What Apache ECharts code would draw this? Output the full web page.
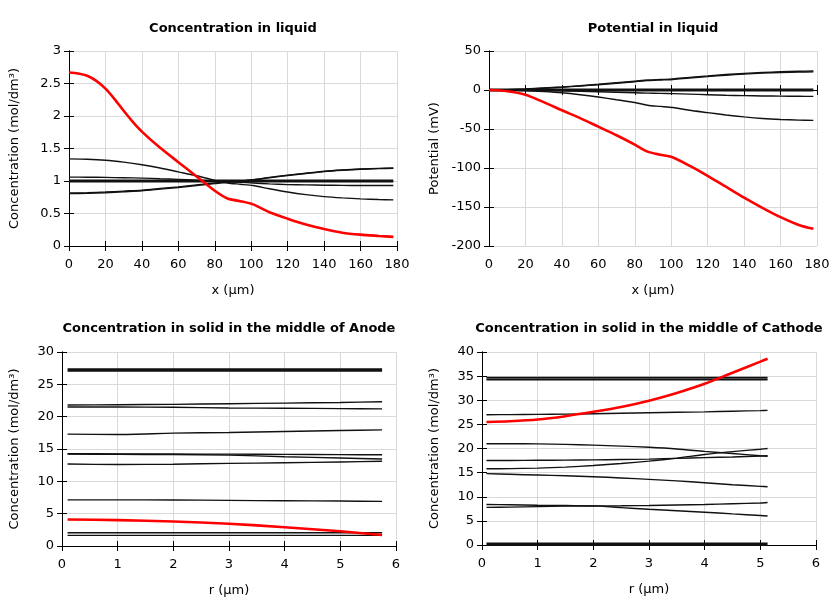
<!DOCTYPE html>
<html>
<head>
<meta charset="utf-8">
<script src="https://cdn.jsdelivr.net/npm/echarts@6/dist/echarts.min.js"></script>
<style>
html,body{margin:0;padding:0;background:#fff;}
#chart{width:840px;height:600px;}
</style>
</head>
<body>
<div id="chart"></div>
<script>
// ---------- DATA ----------
const xLiquid = [0, 10, 20, 30, 40, 50, 60, 70, 80, 87, 94, 101, 110, 120, 130, 140, 150, 160, 170, 178];
const xLiquidRed = [0, 5, 10, 15, 20, 25, 30, 35, 40, 50, 60, 70, 80, 87, 94, 101, 110, 120, 130, 140, 150, 160, 170, 178];

const concLiqRed = [2.67, 2.655, 2.62, 2.54, 2.42, 2.26, 2.08, 1.91, 1.76, 1.51, 1.29, 1.07, 0.85, 0.73, 0.69, 0.64, 0.52, 0.42, 0.33, 0.26, 0.205, 0.175, 0.155, 0.14];
const concLiqHigh = [1.34, 1.335, 1.32, 1.29, 1.25, 1.20, 1.14, 1.08, 1.01, 0.97, 0.95, 0.93, 0.88, 0.83, 0.79, 0.76, 0.74, 0.725, 0.715, 0.71];
const concLiqLowA = [0.815, 0.82, 0.83, 0.845, 0.86, 0.885, 0.91, 0.94, 0.97, 0.99, 1.0, 1.02, 1.055, 1.09, 1.12, 1.15, 1.17, 1.185, 1.195, 1.20];
const concLiqLowB = [0.805, 0.81, 0.82, 0.835, 0.85, 0.875, 0.90, 0.93, 0.96, 0.98, 0.995, 1.015, 1.05, 1.085, 1.115, 1.145, 1.165, 1.18, 1.19, 1.195];
const concLiqFlat = [1, 1, 1, 1, 1, 1, 1, 1, 1, 1, 1, 1, 1, 1, 1, 1, 1, 1, 1, 1];
const concLiqMid = [1.06, 1.058, 1.055, 1.05, 1.045, 1.035, 1.025, 1.012, 1.0, 0.99, 0.98, 0.97, 0.955, 0.945, 0.94, 0.935, 0.933, 0.93, 0.93, 0.93];

const potLiqRed = [0, -1.5, -6, -15.5, -26, -36, -47, -58, -70, -79, -83, -86.5, -97, -110, -124, -138, -151, -163, -173, -178];
const potLiqUpA = [0, 0.3, 1.2, 2.5, 3.8, 5.5, 7.3, 9.3, 11.3, 12.8, 13.5, 14.2, 16.2, 18.0, 19.8, 21.3, 22.5, 23.4, 24.0, 24.4];
const potLiqUpB = [0, 0.3, 1.1, 2.3, 3.5, 5.1, 6.8, 8.7, 10.6, 12.0, 12.8, 13.5, 15.4, 17.2, 19.0, 20.4, 21.6, 22.5, 23.0, 23.3];
const potLiqFlat = [0, 0, 0, 0, 0, 0, 0, 0, 0, 0, 0, 0, 0, 0, 0, 0, 0, 0, 0, 0];
const potLiqDnA = [0, 0, -0.2, -0.6, -1.1, -1.7, -2.3, -2.9, -3.5, -4, -4.3, -4.6, -5.3, -6, -6.7, -7.2, -7.6, -7.9, -8.1, -8.2];
const potLiqDnB = [0, -0.2, -0.8, -2, -3.6, -6, -9, -12.5, -16, -19.5, -21, -22.5, -26, -29, -32, -34.5, -36.5, -37.8, -38.6, -39];

const rAnode = [0.1, 1, 2, 3, 4, 5, 5.75];
const anodeRed = [4.1, 4.0, 3.8, 3.45, 2.9, 2.27, 1.7];
const anodeTop = [27.2, 27.2, 27.2, 27.2, 27.2, 27.2, 27.2];
const anode1 = [21.8, 21.85, 21.9, 22.0, 22.1, 22.2, 22.3];
const anode2 = [21.5, 21.5, 21.45, 21.35, 21.3, 21.25, 21.2];
const anode3 = [17.3, 17.25, 17.45, 17.55, 17.7, 17.85, 17.95];
const anode4 = [14.26, 14.25, 14.22, 14.2, 14.17, 14.13, 14.1];
const anode5 = [14.2, 14.18, 14.13, 14.05, 13.8, 13.6, 13.45];
const anode6 = [12.67, 12.6, 12.65, 12.77, 12.87, 13.0, 13.1];
const anode7 = [7.13, 7.13, 7.12, 7.05, 7.0, 6.95, 6.9];
const anode8 = [2.05, 2.05, 2.05, 2.05, 2.05, 2.05, 2.05];
const anode9 = [1.64, 1.64, 1.64, 1.64, 1.64, 1.64, 1.64];

const rCathode = [0.08, 0.5, 1, 1.5, 2, 2.5, 3, 3.5, 4, 4.5, 5, 5.13];
const cathodeRed = [25.5, 25.65, 26.0, 26.7, 27.6, 28.6, 29.9, 31.5, 33.4, 35.7, 38.0, 38.6];
const cathodeTopA = [34.7, 34.7, 34.7, 34.7, 34.7, 34.7, 34.7, 34.7, 34.7, 34.7, 34.7, 34.7];
const cathodeTopB = [34.3, 34.3, 34.3, 34.3, 34.3, 34.3, 34.3, 34.3, 34.3, 34.3, 34.3, 34.3];
const cathode1 = [27.0, 27.03, 27.07, 27.12, 27.2, 27.3, 27.4, 27.5, 27.6, 27.73, 27.86, 27.9];
const cathode2 = [21.0, 21.0, 20.95, 20.85, 20.7, 20.5, 20.25, 19.9, 19.4, 18.95, 18.5, 18.4];
const cathode3 = [17.5, 17.52, 17.55, 17.6, 17.65, 17.72, 17.8, 17.95, 18.1, 18.25, 18.45, 18.5];
const cathode4 = [15.8, 15.83, 15.93, 16.15, 16.48, 16.9, 17.38, 18.0, 18.76, 19.35, 19.85, 20.0];
const cathode5 = [14.8, 14.65, 14.5, 14.35, 14.15, 13.9, 13.6, 13.3, 12.9, 12.5, 12.15, 12.07];
const cathode6 = [8.4, 8.35, 8.25, 8.18, 8.1, 8.12, 8.2, 8.3, 8.4, 8.55, 8.7, 8.8];
const cathode7 = [7.8, 7.85, 7.95, 8.05, 8.1, 7.75, 7.4, 7.1, 6.8, 6.45, 6.1, 6.0];
const cathodeBottom = [0.15, 0.15, 0.15, 0.15, 0.15, 0.15, 0.15, 0.15, 0.15, 0.15, 0.15, 0.15];

const titles = ['Concentration in liquid', 'Potential in liquid', 'Concentration in solid in the middle of Anode', 'Concentration in solid in the middle of Cathode'];
const xNames = ['x (µm)', 'x (µm)', 'r (µm)', 'r (µm)'];
const yNames = ['Concentration (mol/dm³)', 'Potential (mV)', 'Concentration (mol/dm³)', 'Concentration (mol/dm³)'];

// ---------- LAYOUT ----------
const FONT = 'DejaVu Sans';
const grids = [
  {left: 69, top: 51, width: 328, height: 195},
  {left: 489, top: 51, width: 328, height: 195},
  {left: 62, top: 352, width: 334, height: 194},
  {left: 482, top: 352, width: 334, height: 193}
];
const xRanges = [[0, 180, 20], [0, 180, 20], [0, 6, 1], [0, 6, 1]];
const yRanges = [[0, 3, 0.5], [-200, 50, 50], [0, 30, 5], [0, 40, 5]];
const yNameGaps = [48, 48, 41, 41];

const xAxes = [], yAxes = [], titleList = [];
grids.forEach((g, i) => {
  const tick = {show: true, inside: true, length: 5, lineStyle: {color: '#000', width: 1}};
  const line = {show: true, lineStyle: {color: '#000', width: 1}};
  xAxes.push({
    type: 'value', gridIndex: i, min: xRanges[i][0], max: xRanges[i][1], interval: xRanges[i][2],
    position: 'bottom', axisLine: line, axisTick: tick,
    axisLabel: {margin: 12, color: '#000', fontSize: 13, fontFamily: FONT},
    splitLine: {show: true, lineStyle: {color: '#d9d9d9', width: 1}},
    name: xNames[i], nameLocation: 'middle', nameGap: 38,
    nameTextStyle: {color: '#000', fontSize: 13, fontFamily: FONT}
  });
  xAxes.push({
    type: 'value', gridIndex: i, min: xRanges[i][0], max: xRanges[i][1], interval: xRanges[i][2],
    position: 'top', axisLine: line, axisTick: tick, axisLabel: {show: false}, splitLine: {show: false}
  });
  yAxes.push({
    type: 'value', gridIndex: i, min: yRanges[i][0], max: yRanges[i][1], interval: yRanges[i][2],
    position: 'left', axisLine: line, axisTick: tick,
    axisLabel: {margin: 8, color: '#000', fontSize: 13, fontFamily: FONT},
    splitLine: {show: true, lineStyle: {color: '#d9d9d9', width: 1}},
    name: yNames[i], nameLocation: 'middle', nameGap: yNameGaps[i], nameRotate: 90,
    nameTextStyle: {color: '#000', fontSize: 13, fontFamily: FONT}
  });
  yAxes.push({
    type: 'value', gridIndex: i, min: yRanges[i][0], max: yRanges[i][1], interval: yRanges[i][2],
    position: 'right', axisLine: line, axisTick: tick, axisLabel: {show: false}, splitLine: {show: false}
  });
  titleList.push({
    text: titles[i], left: g.left + g.width / 2, textAlign: 'center',
    top: i < 2 ? 22 : 322, padding: 0,
    textStyle: {fontSize: 13, fontWeight: 'bold', color: '#000', fontFamily: FONT}
  });
});

const series = [];
function addLine(panel, xs, ys, color, width) {
  series.push({
    type: 'line', xAxisIndex: panel * 2, yAxisIndex: panel * 2,
    data: xs.map((x, k) => [x, ys[k]]),
    showSymbol: false, smooth: 0.25,
    lineStyle: {color: color, width: width}, silent: true, animation: false, z: color === '#ff0000' ? 5 : 3
  });
}
const BLK = '#111111', RED = '#ff0000';
// panel 0
addLine(0, xLiquid, concLiqHigh, BLK, 1.4);
addLine(0, xLiquid, concLiqLowA, BLK, 1.4);
addLine(0, xLiquid, concLiqLowB, BLK, 1.4);
addLine(0, xLiquid, concLiqFlat, BLK, 3);
addLine(0, xLiquid, concLiqMid, BLK, 1.4);
addLine(0, xLiquidRed, concLiqRed, RED, 2.6);
// panel 1
addLine(1, xLiquid, potLiqUpA, BLK, 1.4);
addLine(1, xLiquid, potLiqUpB, BLK, 1.4);
addLine(1, xLiquid, potLiqFlat, BLK, 3);
addLine(1, xLiquid, potLiqDnA, BLK, 1.4);
addLine(1, xLiquid, potLiqDnB, BLK, 1.4);
addLine(1, xLiquid, potLiqRed, RED, 2.6);
// panel 2
addLine(2, rAnode, anodeTop, BLK, 3.5);
[anode1, anode2, anode3, anode4, anode5, anode6, anode7, anode8, anode9].forEach(a => addLine(2, rAnode, a, BLK, 1.4));
addLine(2, rAnode, anodeRed, RED, 2.6);
// panel 3
addLine(3, rCathode, cathodeTopA, BLK, 1.8);
addLine(3, rCathode, cathodeTopB, BLK, 1.8);
[cathode1, cathode2, cathode3, cathode4, cathode5, cathode6, cathode7].forEach(a => addLine(3, rCathode, a, BLK, 1.4));
addLine(3, rCathode, cathodeBottom, BLK, 3.5);
addLine(3, rCathode, cathodeRed, RED, 2.6);

const chart = echarts.init(document.getElementById('chart'), null, {renderer: 'canvas'});
chart.setOption({
  animation: false,
  backgroundColor: '#ffffff',
  title: titleList,
  grid: grids,
  xAxis: xAxes,
  yAxis: yAxes,
  series: series
});
</script>
</body>
</html>
